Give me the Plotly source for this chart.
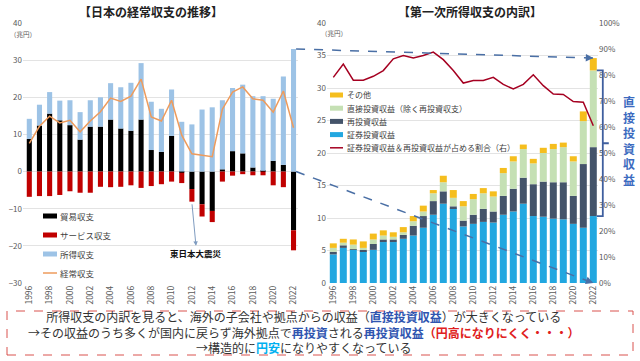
import plotly.graph_objects as go

# ---------------- data ----------------
years = list(range(1996, 2023))
tick_years = years[::2]

# left chart (trillion yen)
trade = [8.8, 12.4, 15.6, 13.8, 12.5, 8.6, 12.1, 12.1, 14.0, 11.6, 11.0, 14.0, 5.8, 5.3, 9.6,
         -0.3, -4.7, -8.8, -10.6, 0.6, 5.5, 4.9, 1.1, 0.2, 2.9, 1.8, -15.8]
service = [-6.8, -6.6, -6.6, -6.3, -5.3, -5.7, -5.7, -4.1, -4.2, -4.1, -3.7, -4.4, -3.9, -3.4, -2.7,
           -2.8, -3.4, -3.3, -3.0, -2.7, -1.1, -0.7, -1.0, -1.0, -3.7, -4.2, -5.4]
income = [5.4, 5.6, 5.8, 5.3, 6.7, 7.4, 7.1, 7.9, 9.8, 11.1, 12.9, 15.2, 13.0, 11.6, 12.5,
          13.4, 12.7, 16.7, 17.3, 18.6, 17.0, 18.5, 19.2, 20.1, 16.7, 23.8, 33.0]
current = [7.6, 12.2, 14.9, 13.1, 13.8, 10.7, 13.6, 16.1, 19.8, 18.9, 20.3, 24.9, 14.7, 13.6, 19.2,
           9.8, 4.8, 4.3, 4.0, 16.8, 21.4, 22.8, 19.6, 19.2, 16.0, 21.7, 11.8]

# right chart (trillion yen)
securities = [4.4, 5.4, 5.1, 4.9, 5.1, 6.3, 6.3, 6.8, 7.3, 8.5, 10.5, 12.2, 11.5, 8.7, 9.1,
              9.4, 9.3, 10.5, 11.0, 12.2, 10.3, 10.2, 9.9, 9.8, 9.1, 8.5, 10.3]
reinvest = [0.4, 0.4, 0.1, 0.2, 0.9, 0.4, 0.4, 0.6, 1.5, 1.8, 2.1, 1.9, 0.3, 0.9, 1.4,
            2.0, 1.7, 2.9, 3.5, 4.0, 4.9, 5.4, 5.6, 5.7, 4.3, 9.8, 10.6]
direct = [0.6, 0.4, 0.7, 0.3, 0.7, 0.6, 0.4, 0.4, 0.7, 0.7, 1.2, 1.4, 1.3, 2.2, 2.4,
          2.4, 2.3, 3.5, 4.2, 4.4, 3.2, 4.4, 5.1, 5.4, 5.3, 6.6, 11.8]
other = [0.7, 0.6, 0.8, 1.0, 0.9, 0.8, 0.7, 0.8, 0.8, 0.9, 0.5, 1.0, 1.2, 0.8, 0.8,
         0.8, 0.8, 0.8, 0.8, 0.7, 0.7, 0.8, 0.8, 0.7, 0.8, 1.5, 1.9]
share_pct = [79.1, 84.2, 78.0, 78.0, 79.5, 81.7, 86.2, 87.5, 86.5, 87.5, 88.8, 85.9, 81.7, 76.9, 77.9,
             77.9, 79.1, 76.4, 74.6, 76.4, 80.1, 75.9, 72.7, 72.5, 69.8, 69.5, 60.5]

left_names = ['貿易収支', 'サービス収支', '所得収支', '経常収支']
right_names = ['証券投資収益', '再投資収益', '直接投資収益（除く再投資収支）', 'その他',
               '証券投資収益＆再投資収益が占める割合（右）']

# ---------------- styling ----------------
C_TRADE, C_SERV, C_INC, C_CUR = '#000000', '#C00000', '#9DC3E6', '#EE9B5C'
C_SEC, C_REI, C_DIR, C_OTH, C_SHARE = '#22A7E0', '#44546A', '#C5E0B4', '#F5BE1E', '#A50021'
C_LINK = '#4A6FA5'
C_TXT = '#404040'
FONT = 'Noto Sans CJK JP'

W, H = 640, 361
PY0, PY1 = 23, 283
L_PX = (23, 298)
R_PX = (327, 598)
XL_RNG = [1995.38, 2022.44]
XR_RNG = [1995.37, 2022.47]
YL_RNG = [-30, 40]
YR_RNG = [0, 40]

dom_y = [1 - PY1 / H, 1 - PY0 / H]
dom_xl = [L_PX[0] / W, L_PX[1] / W]
dom_xr = [R_PX[0] / W, R_PX[1] / W]


def map_lin(v, rng, dom):
    return dom[0] + (v - rng[0]) / (rng[1] - rng[0]) * (dom[1] - dom[0])


def px_x(p):
    return p / W


def px_y(p):
    return 1 - p / H


def to_px_x(paper):
    return paper * W


def to_px_y(paper):
    return (1 - paper) * H


def label(xp, yp, text, size, color=C_TXT, xanchor='center'):
    return dict(x=px_x(xp), y=px_y(yp), xref='paper', yref='paper', showarrow=False,
                xanchor=xanchor, yanchor='middle', text=text, align='center',
                font=dict(family=FONT, size=size, color=color))


fig = go.Figure()

# left chart
fig.add_bar(x=years, y=trade, name=left_names[0], marker=dict(color=C_TRADE, line=dict(width=0)),
            width=0.5, xaxis='x', yaxis='y')
fig.add_bar(x=years, y=service, name=left_names[1], marker=dict(color=C_SERV, line=dict(width=0)),
            width=0.5, xaxis='x', yaxis='y')
fig.add_bar(x=years, y=income, name=left_names[2], marker=dict(color=C_INC, line=dict(width=0)),
            width=0.5, xaxis='x', yaxis='y')
fig.add_scatter(x=years, y=current, name=left_names[3], mode='lines',
                line=dict(color=C_CUR, width=1.5), xaxis='x', yaxis='y')

# right chart
for vals, nm, col in [(securities, right_names[0], C_SEC), (reinvest, right_names[1], C_REI),
                      (direct, right_names[2], C_DIR), (other, right_names[3], C_OTH)]:
    fig.add_bar(x=years, y=vals, name=nm, marker=dict(color=col, line=dict(width=0)),
                width=0.7, xaxis='x2', yaxis='y2')
fig.add_scatter(x=years, y=[v / 100 for v in share_pct], name=right_names[4], mode='lines',
                line=dict(color=C_SHARE, width=1.5), xaxis='x2', yaxis='y3')

tickfont = dict(family=FONT, size=8, color='#595959')
xtickfont = dict(family=FONT, size=8.5, color='#595959')
grid = '#E3E3E3'

fig.update_layout(
    width=W, height=H, margin=dict(l=0, r=0, t=0, b=0),
    barmode='relative', showlegend=False,
    paper_bgcolor='white', plot_bgcolor='white',
    font=dict(family=FONT, color=C_TXT),
    xaxis=dict(domain=dom_xl, range=XL_RNG, anchor='y', tickmode='array', tickvals=tick_years,
               ticktext=[str(y) for y in tick_years], tickangle=-90, showgrid=False,
               zeroline=False, showline=False, ticks='', tickfont=xtickfont, automargin=False),
    yaxis=dict(domain=dom_y, range=YL_RNG, anchor='x', dtick=10, gridcolor=grid, gridwidth=1,
               zeroline=False, showline=False, ticks='', tickfont=tickfont, automargin=False),
    xaxis2=dict(domain=dom_xr, range=XR_RNG, anchor='y2', tickmode='array', tickvals=tick_years,
                ticktext=[str(y) for y in tick_years], tickangle=-90, showgrid=False,
                zeroline=False, showline=False, ticks='', tickfont=xtickfont, automargin=False),
    yaxis2=dict(domain=dom_y, range=YR_RNG, anchor='x2', dtick=5, gridcolor=grid, gridwidth=1,
                zeroline=False, showline=False, ticks='', tickfont=tickfont, automargin=False),
    yaxis3=dict(overlaying='y2', side='right', anchor='x2', range=[0, 1], dtick=0.1,
                tickformat='.0%', showgrid=False, zeroline=False, showline=False, ticks='',
                tickfont=tickfont, automargin=False),
)

shapes = []
annotations = []

# titles
annotations.append(label(151, 11, '<b>【日本の経常収支の推移】</b>', 12, '#222222'))
annotations.append(label(470, 11, '<b>【第一次所得収支の内訳】</b>', 12, '#222222'))
# units
annotations.append(label(23, 34, '（兆円）', 6.5, '#595959'))
annotations.append(label(334, 33, '（兆円）', 6.5, '#595959'))

# manual legends
left_leg = [(left_names[0], C_TRADE, 'bar'), (left_names[1], C_SERV, 'bar'),
            (left_names[2], C_INC, 'bar'), (left_names[3], C_CUR, 'line')]
for i, (nm, col, kind) in enumerate(left_leg):
    yc = 216 + 19 * i
    if kind == 'bar':
        shapes.append(dict(type='rect', xref='paper', yref='paper', x0=px_x(43), x1=px_x(57),
                           y0=px_y(yc + 2.5), y1=px_y(yc - 2.5), fillcolor=col, line=dict(width=0)))
    else:
        shapes.append(dict(type='line', xref='paper', yref='paper', x0=px_x(43), x1=px_x(57),
                           y0=px_y(yc), y1=px_y(yc), line=dict(color=col, width=1.5)))
    annotations.append(label(58, yc, nm, 8.5, C_TXT, 'left'))

right_leg = [(right_names[3], C_OTH, 'bar'), (right_names[2], C_DIR, 'bar'),
             (right_names[1], C_REI, 'bar'), (right_names[0], C_SEC, 'bar'),
             (right_names[4], C_SHARE, 'line')]
for i, (nm, col, kind) in enumerate(right_leg):
    yc = 95 + 13.2 * i
    if kind == 'bar':
        shapes.append(dict(type='rect', xref='paper', yref='paper', x0=px_x(330), x1=px_x(343),
                           y0=px_y(yc + 2.5), y1=px_y(yc - 2.5), fillcolor=col, line=dict(width=0)))
    else:
        shapes.append(dict(type='line', xref='paper', yref='paper', x0=px_x(330), x1=px_x(343),
                           y0=px_y(yc), y1=px_y(yc), line=dict(color=col, width=1.5)))
    annotations.append(label(345, yc, nm, 8, C_TXT, 'left'))

# earthquake annotation
i12 = years.index(2012)
annotations.append(dict(x=2012.4, y=-20.0, xref='x', yref='y', ax=2012.0,
                        ay=trade[i12] + service[i12] - 0.3, axref='x', ayref='y', text='',
                        showarrow=True, arrowhead=2, arrowsize=0.9, arrowwidth=1,
                        arrowcolor='#7F9CC0'))
annotations.append(dict(x=2012.4, y=-21.9, xref='x', yref='y', showarrow=False,
                        xanchor='center', yanchor='middle',
                        text='<b>東日本大震災</b>', font=dict(size=8.5, color='#111111')))

# connecting dashed lines (left 2022 bar -> right 2022 bar)
i22 = years.index(2022)
left_top = max(trade[i22], 0) + income[i22]
right_top = securities[i22] + reinvest[i22] + direct[i22] + other[i22]
lx = map_lin(2022 + 0.25, XL_RNG, dom_xl)
rx = map_lin(2022, XR_RNG, dom_xr)
links = [
    (lx, map_lin(left_top, YL_RNG, dom_y), rx, map_lin(right_top, YR_RNG, dom_y)),
    (lx, map_lin(0, YL_RNG, dom_y), rx, map_lin(0, YR_RNG, dom_y)),
]
for (x0, y0, x1, y1) in links:
    shapes.append(dict(type='line', xref='paper', yref='paper', x0=x0, y0=y0, x1=x1, y1=y1,
                       line=dict(color=C_LINK, width=1.5, dash='dash')))
    dxp = (x1 - x0) * W
    dyp = -(y1 - y0) * H
    ln = (dxp ** 2 + dyp ** 2) ** 0.5
    annotations.append(dict(x=x1, y=y1, xref='paper', yref='paper', text='', showarrow=True,
                            ax=-dxp / ln * 8, ay=-dyp / ln * 8, arrowhead=2, arrowsize=1,
                            arrowwidth=1.5, arrowcolor=C_LINK))

# bracket for direct investment income (reinvest + direct) of 2022
yt = to_px_y(map_lin(securities[i22] + reinvest[i22] + direct[i22], YR_RNG, dom_y))
yb = to_px_y(map_lin(securities[i22], YR_RNG, dom_y))
ym = (yt + yb) / 2
bx0 = to_px_x(map_lin(2022 + 0.35, XR_RNG, dom_xr))
bx1 = bx0 + 6
bx2 = bx1 + 6
path = (f"M {px_x(bx0)},{px_y(yt)} L {px_x(bx1)},{px_y(yt)} L {px_x(bx1)},{px_y(yb)} "
        f"L {px_x(bx0)},{px_y(yb)} M {px_x(bx1)},{px_y(ym)} L {px_x(bx2)},{px_y(ym)}")
shapes.append(dict(type='path', xref='paper', yref='paper', path=path,
                   line=dict(color='#3F5F9F', width=1.8)))
annotations.append(label(629, ym - 3, '<b>' + '<br>'.join('直接投資収益') + '</b>', 12,
                         '#3C6BC0'))

# bottom text box
shapes.append(dict(type='rect', xref='paper', yref='paper', x0=px_x(7), x1=px_x(633),
                   y0=px_y(355), y1=px_y(311), line=dict(color='#D9534F', width=1, dash='dash'),
                   fillcolor='rgba(0,0,0,0)'))
BLUE = '#2F55B0'
lines = [
    '所得収支の内訳を見ると、海外の子会社や拠点からの収益（'
    f'<span style="color:{BLUE}"><b>直接投資収益</b></span>）が大きくなっている',
    '→その収益のうち多くが国内に戻らず海外拠点で'
    f'<span style="color:{BLUE}"><b>再投資</b></span>される'
    f'<span style="color:{BLUE}"><b>再投資収益</b></span>'
    '<span style="color:#E02020"><b>（円高になりにくく・・・）</b></span>',
    '→構造的に<span style="color:#00B0F0"><b>円安</b></span>になりやすくなっている',
]
annotations.append(label(304, 331.5, '<br>'.join(lines), 12, '#333333'))

fig.update_layout(shapes=shapes, annotations=annotations)

fig.write_html("out.html", config={'displayModeBar': False},
               post_script="document.body.style.margin='0';")
